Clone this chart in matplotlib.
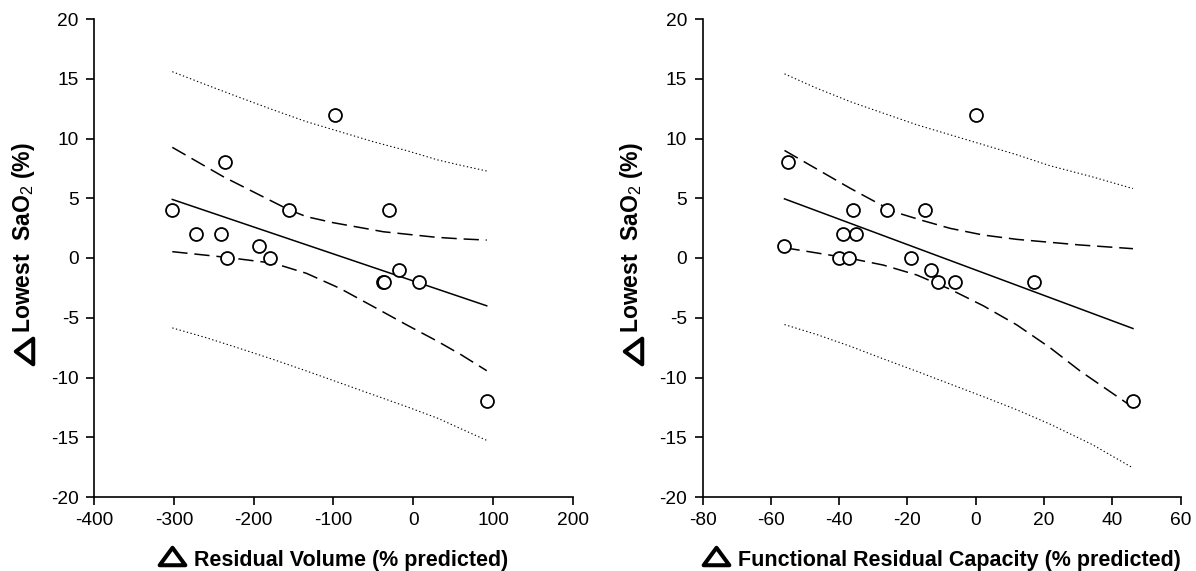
import matplotlib
matplotlib.use("Agg")
import matplotlib.pyplot as plt
from matplotlib.lines import Line2D
from matplotlib.path import Path

plt.rcParams['font.family'] = ['Liberation Sans', 'DejaVu Sans']
plt.rcParams['mathtext.fontset'] = 'custom'
plt.rcParams['mathtext.rm'] = 'Liberation Sans'
plt.rcParams['mathtext.default'] = 'rm'
plt.rcParams['axes.unicode_minus'] = False

# Residual volume panel
rv_x = [-302, -272, -241, -236, -234, -193, -180, -156, -98, -38, -37, -31, -18, 7, 92]
rv_y = [4, 2, 2, 8, 0, 1, 0, 4, 12, -2, -2, 4, -1, -2, -12]
rv_fit_x = [-302, 92]
rv_fit_y = [4.9, -4.0]
rv_ci_hi_x = [-302, -238, -157, -134, -100, -50, -38, 29, 60, 92]
rv_ci_hi_y = [9.26, 6.8, 4.07, 3.46, 2.95, 2.35, 2.2, 1.73, 1.6, 1.5]
rv_ci_lo_x = [-302, -235, -175, -134, -92, -50, -8, 29, 60, 92]
rv_ci_lo_y = [0.53, 0.06, -0.44, -1.28, -2.54, -4.07, -5.61, -6.92, -8.1, -9.43]
rv_pi_x = [-302, -259, -217, -175, -134, -92, -50, -8, 31, 60, 92]
rv_pi_hi = [15.59, 14.48, 13.42, 12.38, 11.41, 10.57, 9.73, 8.98, 8.2, 7.75, 7.28]
rv_pi_lo = [-5.85, -6.68, -7.58, -8.5, -9.45, -10.45, -11.45, -12.45, -13.42, -14.3, -15.26]

# Functional residual capacity panel
frc_x = [-56, -55, -40, -39, -37, -36, -35, -26, -19, -15, -13, -11, -6, 0, 17, 46]
frc_y = [1, 8, 0, 2, 0, 4, 2, 4, 0, 4, -1, -2, -2, 12, -2, -12]
frc_fit_x = [-56, 46]
frc_fit_y = [4.95, -5.9]
frc_ci_hi_x = [-56, -36.8, -24.1, -15.4, -7.5, 2.2, 12, 30.5, 46]
frc_ci_hi_y = [9.0, 5.84, 3.88, 3.12, 2.48, 1.92, 1.56, 1.09, 0.78]
frc_ci_lo_x = [-56, -36.8, -27.1, -17.3, -7.5, 2.2, 12, 21.7, 30.5, 46]
frc_ci_lo_y = [0.86, -0.03, -0.59, -1.42, -2.62, -4.0, -5.6, -7.5, -9.45, -12.5]
frc_pi_x = [-56, -46.6, -36.8, -27.1, -17.3, -7.5, 2.2, 12, 21.7, 34, 46]
frc_pi_hi = [15.41, 14.21, 13.09, 12.12, 11.15, 10.31, 9.48, 8.64, 7.72, 6.8, 5.81]
frc_pi_lo = [-5.57, -6.4, -7.38, -8.44, -9.48, -10.55, -11.6, -12.7, -13.9, -15.6, -17.57]

W, H = 1196, 571
fig = plt.figure(figsize=(W / 100, H / 100), dpi=100)

tri_up = Path([(-1, -0.68), (1, -0.68), (0, 0.68), (-1, -0.68)],
              [Path.MOVETO, Path.LINETO, Path.LINETO, Path.CLOSEPOLY])
tri_left = Path([(0.68, -1), (0.68, 1), (-0.68, 0), (0.68, -1)],
                [Path.MOVETO, Path.LINETO, Path.LINETO, Path.CLOSEPOLY])


def triangle(x, y, path):
    fig.add_artist(Line2D([x / W], [1 - y / H], transform=fig.transFigure,
                          marker=path, markersize=18.5, markeredgewidth=2.9,
                          markerfacecolor='white', markeredgecolor='black',
                          linestyle='none'))


def panel(rect, xs, ys, fx, fy, chx, chy, clx, cly, px, phi, plo, xlim, xticks):
    ax = fig.add_axes(rect)
    ax.plot(px, phi, color='black', lw=0.8, linestyle=(0, (1.2, 2.2)))
    ax.plot(px, plo, color='black', lw=0.8, linestyle=(0, (1.2, 2.2)))
    ax.plot(chx, chy, color='black', lw=1.1, dashes=(10, 4.5))
    ax.plot(clx, cly, color='black', lw=1.1, dashes=(10, 4.5))
    ax.plot(fx, fy, color='black', lw=1.1)
    ax.plot(xs, ys, 'o', ms=9.3, mfc='white', mec='black', mew=1.3, zorder=5)
    ax.set_xlim(*xlim)
    ax.set_ylim(-20, 20)
    ax.set_xticks(xticks)
    ax.set_yticks(range(-20, 21, 5))
    for s in ['top', 'right']:
        ax.spines[s].set_visible(False)
    for s in ['left', 'bottom']:
        ax.spines[s].set_linewidth(1.2)
    ax.tick_params(direction='out', length=6, width=1.2, labelsize=13.8, pad=5)
    return ax


ax1 = panel([94.1 / W, 74 / H, 478.8 / W, 478 / H], rv_x, rv_y, rv_fit_x, rv_fit_y,
            rv_ci_hi_x, rv_ci_hi_y, rv_ci_lo_x, rv_ci_lo_y, rv_pi_x, rv_pi_hi, rv_pi_lo,
            (-400, 200), range(-400, 201, 100))
ax2 = panel([702.5 / W, 74 / H, 478.3 / W, 478 / H], frc_x, frc_y, frc_fit_x, frc_fit_y,
            frc_ci_hi_x, frc_ci_hi_y, frc_ci_lo_x, frc_ci_lo_y, frc_pi_x, frc_pi_hi, frc_pi_lo,
            (-80, 60), range(-80, 61, 20))

# axis labels: text plus a drawn open triangle for the delta sign
fig.canvas.draw()
renderer = fig.canvas.get_renderer()
for ax, label in [(ax1, 'Residual Volume (% predicted)'),
                  (ax2, 'Functional Residual Capacity (% predicted)')]:
    bb = ax.get_window_extent()
    cx = (bb.x0 + bb.x1) / 2
    t = fig.text((cx + 18) / W, 5 / H, label, ha='center', va='baseline',
                 fontsize=15.5, fontweight='bold')
    tb = t.get_window_extent(renderer)
    triangle(tb.x0 - 22, 556, tri_up)

    yl = fig.text((bb.x0 - 71) / W, 1 - 238 / H, 'Lowest  SaO$_2$ (%)',
                  ha='center', va='center', rotation=90,
                  fontsize=16.6, fontweight='bold')
    yb = yl.get_window_extent(renderer)
    triangle(bb.x0 - 70, H - yb.y0 + 18, tri_left)

fig.savefig('out.png', dpi=100)
